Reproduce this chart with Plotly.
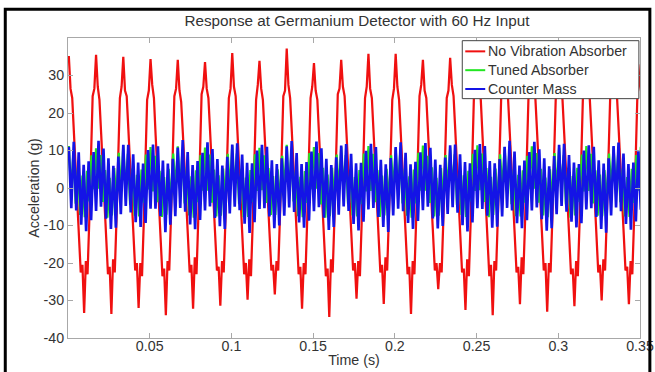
import numpy as np
import plotly.graph_objects as go

# ---- data (accelerations in g) ----
T0 = 0.0005
DT_RED = 1 / 960
DT_GREEN = 1 / 720
DT_BLUE = 1 / 660

no_absorber = [
    35.2, 26.5, 24.0, 15.0, 5.5, -4.5, -14.0, -22.5, -20.5, -33.3, -19.5, -23.0, -9.0, 8.5, 24.5, 26.5,
    35.5, 27.0, 23.5, 14.5, 5.0, -5.0, -14.5, -23.0, -21.0, -33.6, -19.0, -22.5, -8.5, 9.0, 24.0, 27.0,
    35.0, 26.0, 24.5, 15.5, 6.0, -4.0, -13.5, -22.0, -20.0, -32.0, -20.0, -23.5, -9.5, 8.0, 23.5, 26.0,
    34.4, 27.5, 24.0, 14.0, 4.5, -5.5, -15.0, -23.5, -21.5, -33.9, -19.5, -22.0, -8.0, 9.5, 24.5, 26.5,
    34.2, 26.0, 23.0, 14.5, 5.0, -4.5, -14.0, -22.5, -20.5, -32.2, -18.5, -23.0, -9.0, 8.5, 25.0, 27.0,
    33.6, 26.5, 24.0, 15.0, 5.5, -4.0, -13.5, -22.0, -21.0, -31.4, -19.5, -22.5, -8.5, 9.0, 24.0, 26.5,
    36.0, 27.0, 24.5, 15.5, 6.0, -4.5, -14.0, -23.0, -20.0, -29.8, -19.0, -23.5, -9.5, 8.0, 23.5, 27.5,
    33.9, 26.5, 23.5, 14.5, 5.0, -5.0, -14.5, -22.0, -20.5, -28.4, -19.5, -22.0, -8.0, 9.0, 24.5, 26.0,
    37.2, 27.5, 24.0, 15.0, 5.5, -4.5, -14.0, -23.0, -21.0, -32.2, -20.0, -23.0, -9.0, 8.5, 24.0, 27.0,
    33.3, 26.0, 23.5, 14.0, 4.5, -5.5, -15.0, -23.5, -21.5, -34.4, -19.0, -22.5, -8.5, 9.5, 25.0, 26.5,
    34.2, 27.0, 24.5, 15.5, 6.0, -4.0, -13.5, -22.0, -20.0, -29.5, -19.5, -23.5, -9.5, 8.0, 24.0, 27.0,
    35.8, 26.5, 24.0, 15.0, 5.0, -4.5, -14.0, -22.5, -20.5, -30.9, -18.5, -22.0, -8.0, 9.0, 23.5, 26.5,
    35.8, 27.0, 23.5, 14.5, 5.5, -5.0, -14.5, -23.0, -21.0, -33.6, -19.5, -23.0, -9.0, 8.5, 24.5, 27.5,
    34.2, 26.0, 24.0, 15.0, 6.0, -4.0, -13.5, -22.0, -20.0, -27.0, -20.0, -22.5, -8.5, 9.0, 24.0, 26.0,
    34.7, 27.5, 24.5, 15.5, 5.0, -4.5, -14.0, -22.5, -21.5, -32.5, -19.0, -23.5, -9.5, 8.0, 25.0, 27.0,
    34.5, 26.5, 23.5, 14.0, 4.5, -5.5, -15.0, -23.5, -20.5, -33.9, -19.5, -22.0, -8.0, 9.5, 24.5, 26.5,
    35.0, 27.0, 24.0, 15.0, 5.5, -4.5, -14.0, -22.5, -21.0, -31.0, -18.5, -23.0, -9.0, 8.5, 24.0, 27.0,
    34.0, 26.0, 24.5, 15.5, 6.0, -4.0, -13.5, -22.0, -20.0, -33.0, -20.0, -22.5, -8.5, 9.0, 23.5, 26.5,
    35.0, 27.0, 23.5, 14.5, 5.0, -5.0, -14.5, -23.0, -21.5, -31.5, -19.5, -23.5, -9.5, 8.0, 24.5, 27.0,
    34.5, 26.5, 24.0, 15.0, 5.5, -4.5, -14.0, -22.5, -20.5, -30.0, -19.0, -22.0, -8.0, 9.0, 24.0, 26.0,
    35.0, 27.0, 24.5, 15.5, 6.0, -4.0, -13.5, -22.0, -21.0, -31.0, -19.5, -23.0, -9.0, 8.5, 25.0, 27.5,
    33.0,
]

tuned_absorber = [
    11.2, -0.8, 9.3, -4.2, 5.4, -7.2, 3.3, -7.8, 4.6, -3.6, 8.7, -0.3,
    10.6, -0.2, 8.8, -3.7, 4.8, -7.9, 2.7, -7.3, 5.3, -4.3, 9.4, -0.9,
    11.4, -0.6, 9.1, -4.5, 5.2, -7.4, 3.5, -7.6, 4.9, -3.9, 8.9, -0.4,
    10.9, -0.9, 8.6, -3.8, 4.6, -7.7, 2.9, -7.1, 5.1, -4.1, 9.2, -0.6,
    11.1, -0.3, 9.4, -4.1, 5.5, -7.3, 3.1, -7.9, 4.7, -3.8, 8.8, -0.7,
    10.8, -0.7, 8.9, -3.9, 4.9, -7.6, 3.4, -7.4, 5.2, -4.4, 9.1, -0.2,
    11.3, -0.4, 9.2, -4.3, 5.1, -7.8, 2.8, -7.7, 4.8, -3.7, 9.0, -0.8,
    10.7, -0.6, 8.7, -4.0, 5.3, -7.2, 3.2, -7.2, 5.0, -4.2, 8.6, -0.5,
    11.5, -0.9, 9.0, -3.6, 4.7, -7.5, 3.0, -7.8, 4.5, -4.0, 9.3, -0.3,
    10.9, -0.2, 9.3, -4.4, 5.4, -7.9, 3.6, -7.5, 5.4, -3.9, 8.9, -0.6,
    11.0, -0.5, 8.8, -4.2, 5.0, -7.3, 2.9, -7.6, 4.8, -4.3, 9.2, -0.9,
    11.2, -0.8, 9.1, -3.8, 4.8, -7.7, 3.3, -7.3, 5.1, -3.8, 8.7, -0.4,
    10.6, -0.3, 9.4, -4.1, 5.2, -7.4, 3.1, -7.9, 4.9, -4.1, 9.4, -0.7,
    11.3, -0.7, 8.6, -4.0, 5.5, -7.6, 2.7, -7.4, 5.3, -4.0, 8.8, -0.2,
    10.8, -0.4, 9.0, -4.5, 4.6, -7.2, 3.4, -7.7, 4.6, -3.6, 9.1, -0.8,
    11.4, -0.6, 9.2, -3.7, 5.3, -7.8, 3.0, -7.2, 5.2, -4.4, 9.0, -0.5,
    10.9, -0.9, 8.9, -4.3, 4.9, -7.5, 3.5, -7.6, 4.7, -3.9, 8.6, -0.3,
    11.1, -0.2, 9.3, -3.9, 5.1, -7.3, 2.8, -7.8, 5.0, -4.2, 9.3, -0.6,
    10.7, -0.5, 8.7, -4.4, 5.4, -7.9, 3.2, -7.3, 5.4, -3.7, 8.9, -0.9,
    11.2, -0.8, 9.1, -4.1, 4.7, -7.4, 3.6, -7.5, 4.8, -4.1, 9.2, -0.4,
    11.0, -0.4, 9.0, -3.8, 5.2, -7.6, 2.9, -7.7, 5.1, -4.0, 8.8, -0.7,
    11.0,
]

counter_mass = [
    11.0, -5.4, 12.3, -6.0, 9.5, -9.8, 6.2, -11.5, 7.1, -8.6, 9.6,
    -6.1, 12.6, -5.0, 10.5, -8.2, 7.9, -10.9, 5.9, -10.6, 8.4, -7.0,
    11.5, -4.8, 11.5, -6.5, 9.0, -9.1, 6.8, -10.4, 6.5, -9.3, 10.1,
    -5.5, 11.6, -5.5, 11.1, -7.5, 7.3, -11.8, 6.5, -9.8, 7.8, -7.5,
    10.8, -5.3, 12.8, -6.3, 9.6, -9.7, 6.1, -11.0, 7.2, -8.5, 9.4,
    -6.0, 12.2, -4.9, 10.4, -8.0, 7.7, -10.2, 6.0, -10.9, 8.3, -6.8,
    11.6, -5.0, 11.9, -5.9, 8.9, -9.5, 6.7, -12.0, 6.6, -9.1, 10.0,
    -5.6, 11.5, -5.4, 11.0, -7.6, 7.4, -10.7, 6.4, -10.0, 7.9, -7.4,
    11.1, -5.2, 12.5, -6.4, 9.3, -9.2, 6.4, -10.6, 6.9, -8.7, 9.7,
    -6.2, 12.4, -5.1, 10.6, -7.9, 7.8, -11.2, 6.1, -10.4, 8.2, -7.1,
    11.3, -4.9, 11.7, -6.1, 9.1, -9.6, 6.6, -11.3, 6.7, -9.0, 9.9,
    -5.7, 11.8, -5.3, 10.9, -7.7, 7.5, -10.4, 6.3, -11.7, 8.0, -7.3,
    10.9, -5.5, 12.2, -6.2, 9.4, -9.3, 6.3, -10.9, 7.0, -8.8, 9.5,
    -5.9, 12.0, -5.0, 10.7, -8.1, 7.6, -10.8, 6.2, -10.1, 8.1, -6.9,
    11.4, -5.1, 11.6, -6.6, 9.0, -9.9, 6.9, -11.6, 6.6, -9.2, 10.2,
    -5.4, 11.7, -5.6, 11.2, -7.4, 7.2, -10.6, 6.6, -10.3, 7.7, -7.6,
    11.0, -5.3, 12.6, -6.0, 9.7, -9.4, 6.0, -10.7, 7.3, -8.6, 9.6,
    -6.0, 12.3, -5.2, 10.3, -8.3, 7.9, -11.4, 5.8, -10.7, 8.5, -7.0,
    11.5, -4.8, 11.8, -6.3, 8.8, -9.0, 6.8, -10.5, 6.4, -9.4, 10.0,
    -5.7, 11.4, -5.4, 11.0, -7.7, 7.4, -10.9, 6.5, -11.9, 7.9, -7.3,
    11.2, -5.2, 12.1, -6.2, 9.2, -9.6, 6.4, -11.1, 6.8, -8.9, 9.8,
    -5.8,
]

series_names = ["No Vibration Absorber", "Tuned Absorber", "Counter Mass"]
series_colors = ["#f01010", "#22e622", "#1414e6"]

x_ticks = [0.05, 0.1, 0.15, 0.2, 0.25, 0.3, 0.35]
x_tick_labels = ["0.05", "0.1", "0.15", "0.2", "0.25", "0.3", "0.35"]
y_ticks = [-40, -30, -20, -10, 0, 10, 20, 30]
y_tick_labels = ["-40", "-30", "-20", "-10", "0", "10", "20", "30"]

t_red = T0 + np.arange(len(no_absorber)) * DT_RED
t_green = T0 + np.arange(len(tuned_absorber)) * DT_GREEN
t_blue = T0 + np.arange(len(counter_mass)) * DT_BLUE

FONT = "Liberation Sans, Arial, sans-serif"
AX = "#a8a8a8"
TXT = "#333333"

# geometry measured on the 655x372 reference, rendered with a small scale
# factor so that the captured picture lines up with the reference
S = 1.017
RW, RH = 655, 372
RL, RR, RT, RB = 67, 15, 37, 39
W, H = round(RW * S), round(RH * S)
L, R, T, B = round(RL * S), round(RR * S), round(RT * S), round(RB * S)
PW, PH = W - L - R, H - T - B


def px_x(px):
    return (px * S - L) / PW


def px_y(py):
    return (H - B - py * S) / PH


def fs(v):
    return v * S


fig = go.Figure()
for tt, vals, name, col, w in zip([t_red, t_green, t_blue],
                                  [no_absorber, tuned_absorber, counter_mass],
                                  series_names, series_colors, [2.2, 2.2, 2.6]):
    fig.add_trace(go.Scatter(x=tt, y=vals, mode="lines", name=name,
                             line=dict(color=col, width=fs(w)), showlegend=False))

fig.update_layout(
    width=W, height=H,
    margin=dict(l=L, r=R, t=T, b=B),
    paper_bgcolor="white", plot_bgcolor="white",
    font=dict(family=FONT, size=fs(14), color=TXT),
    title=dict(text="Response at Germanium Detector with 60 Hz Input",
               x=351 / RW, xanchor="center", y=1 - 20 / RH, yanchor="middle",
               font=dict(family=FONT, size=fs(15), color=TXT)),
    showlegend=False,
)
fig.update_xaxes(range=[0, 0.35], tickvals=x_ticks, ticktext=x_tick_labels,
                 showline=True, linecolor=AX, linewidth=1, mirror="ticks",
                 ticks="inside", ticklen=5, tickcolor=AX, showgrid=False, zeroline=False,
                 tickfont=dict(size=fs(14)), ticklabelstandoff=-5,
                 title=dict(text="Time (s)", standoff=1, font=dict(size=fs(14), color=TXT)))
fig.update_yaxes(range=[-40, 40], tickvals=y_ticks, ticktext=y_tick_labels,
                 showline=True, linecolor=AX, linewidth=1, mirror="ticks",
                 ticks="inside", ticklen=5, tickcolor=AX, showgrid=False, zeroline=False,
                 tickfont=dict(size=fs(14)),
                 title=dict(text="Acceleration (g)", standoff=0, font=dict(size=fs(14), color=TXT)))

# legend (drawn as a box with sample lines and labels)
fig.add_shape(type="rect", xref="paper", yref="paper",
              x0=px_x(462), x1=px_x(639), y0=px_y(97), y1=px_y(40),
              line=dict(color="#444444", width=1), fillcolor="white", layer="above")
for i, (name, col) in enumerate(zip(series_names, series_colors)):
    yy = px_y(50.5 + i * 18.5)
    fig.add_shape(type="line", xref="paper", yref="paper",
                  x0=px_x(465), x1=px_x(485), y0=yy, y1=yy,
                  line=dict(color=col, width=2), layer="above")
    fig.add_annotation(xref="paper", yref="paper", x=px_x(486), y=yy,
                       xanchor="left", yanchor="middle", text=name, showarrow=False,
                       font=dict(family=FONT, size=fs(14), color=TXT))

# outer black frame of the figure image (left, top and right edges)
fx0, fx1 = px_x(4), px_x(650)
fy_top, fy_bot = px_y(9), px_y(372)
fig.add_shape(type="path", xref="paper", yref="paper",
              path=f"M {fx0} {fy_bot} L {fx0} {fy_top} L {fx1} {fy_top} L {fx1} {fy_bot}",
              line=dict(color="black", width=3), layer="above")

fig.write_html(
    "out.html",
    config={"displayModeBar": False, "staticPlot": True},
    post_script=("document.documentElement.style.overflow='hidden';"
                 "document.body.style.overflow='hidden';"
                 "document.body.style.margin='0';"),
)
